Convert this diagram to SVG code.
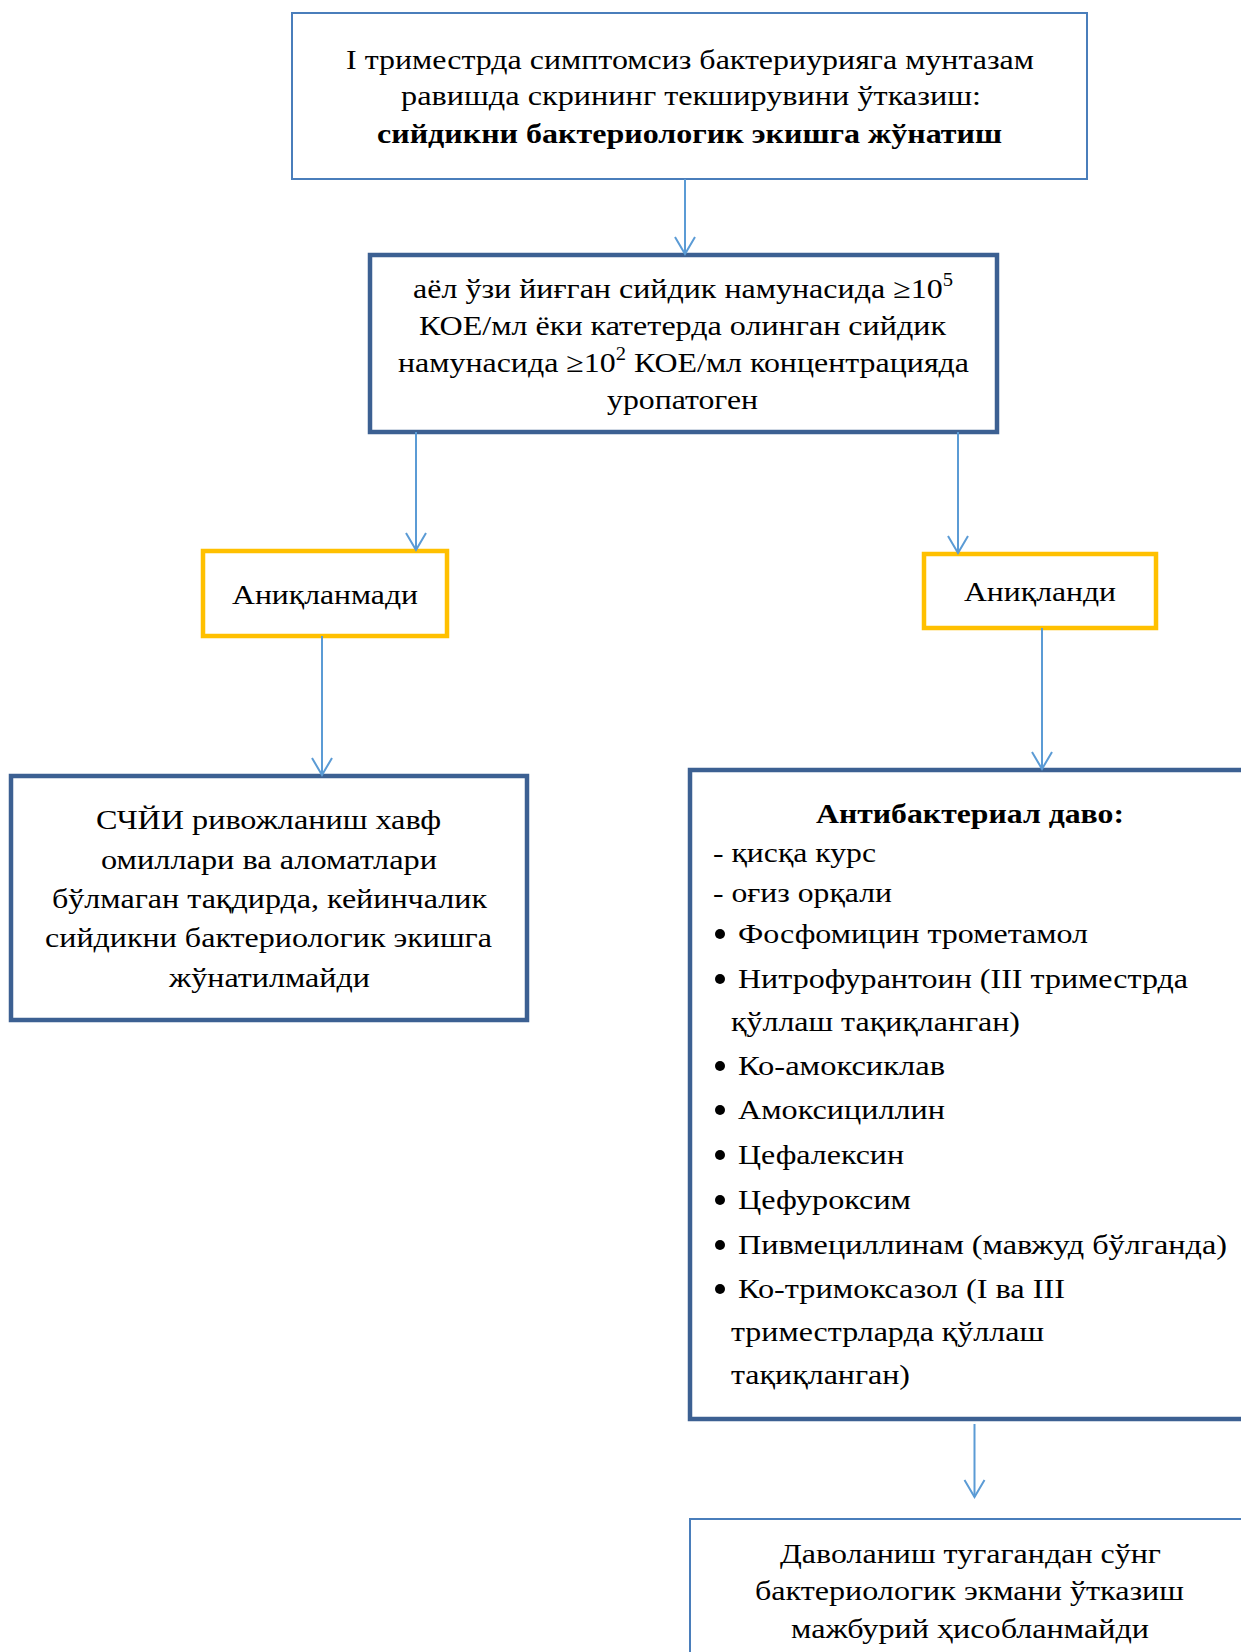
<svg xmlns="http://www.w3.org/2000/svg" width="1241" height="1652" viewBox="0 0 1241 1652">
<style>
.t{font-family:"Liberation Serif","Times New Roman",serif;font-size:28px;fill:#000}
.b{font-weight:bold}
.thin{fill:#fff;stroke:#4a7ebb;stroke-width:2}
.thick{fill:#fff;stroke:#3c6092;stroke-width:4.5}
.org{fill:#fff;stroke:#ffc000;stroke-width:4.5}
.conn line{stroke:#5b9bd5;stroke-width:2;marker-end:url(#arr)}
</style>
<defs>
<marker id="arr" markerUnits="userSpaceOnUse" viewBox="-20 -12 24 24" refX="0" refY="0" markerWidth="24" markerHeight="24" orient="auto" overflow="visible">
<path d="M-17,-10 L0,0 L-17,10" fill="none" stroke="#5b9bd5" stroke-width="2"/>
</marker>
</defs>
<rect width="1241" height="1652" fill="#fff"/>

<g id="n1">
<rect class="thin" x="292" y="13" width="795" height="166"/>
<text class="t" x="346" y="69" textLength="688" lengthAdjust="spacingAndGlyphs">І триместрда симптомсиз бактериурияга мунтазам</text>
<text class="t" x="401" y="105" textLength="580" lengthAdjust="spacingAndGlyphs">равишда скрининг текширувини ўтказиш:</text>
<text class="t b" x="377" y="143" textLength="625" lengthAdjust="spacingAndGlyphs">сийдикни бактериологик экишга жўнатиш</text>
</g>

<g id="n2">
<rect class="thick" x="370" y="255" width="627" height="177"/>
<text class="t" x="413" y="298" textLength="540" lengthAdjust="spacingAndGlyphs">аёл ўзи йиғган сийдик намунасида ≥10<tspan font-size="18" dy="-12">5</tspan></text>
<text class="t" x="419" y="335" textLength="527" lengthAdjust="spacingAndGlyphs">КОЕ/мл ёки катетерда олинган сийдик</text>
<text class="t" x="398" y="372" textLength="571" lengthAdjust="spacingAndGlyphs">намунасида ≥10<tspan font-size="18" dy="-12">2</tspan><tspan dy="12"> КОЕ/мл концентрацияда</tspan></text>
<text class="t" x="607" y="409" textLength="151" lengthAdjust="spacingAndGlyphs">уропатоген</text>
</g>

<g id="n3">
<rect class="org" x="203" y="551" width="244" height="85"/>
<text class="t" x="232" y="604" textLength="186" lengthAdjust="spacingAndGlyphs">Аниқланмади</text>
</g>

<g id="n4">
<rect class="org" x="924" y="554" width="232" height="74"/>
<text class="t" x="964" y="601" textLength="152" lengthAdjust="spacingAndGlyphs">Аниқланди</text>
</g>

<g id="n5">
<rect class="thick" x="11" y="776" width="516" height="244"/>
<text class="t" x="96" y="829" textLength="345" lengthAdjust="spacingAndGlyphs">СЧЙИ ривожланиш хавф</text>
<text class="t" x="101" y="869" textLength="336" lengthAdjust="spacingAndGlyphs">омиллари ва аломатлари</text>
<text class="t" x="52" y="908" textLength="435" lengthAdjust="spacingAndGlyphs">бўлмаган тақдирда, кейинчалик</text>
<text class="t" x="45" y="947" textLength="447" lengthAdjust="spacingAndGlyphs">сийдикни бактериологик экишга</text>
<text class="t" x="169" y="987" textLength="201" lengthAdjust="spacingAndGlyphs">жўнатилмайди</text>
</g>

<g id="n6">
<rect class="thick" x="690" y="770" width="580" height="649"/>
<text class="t b" x="816" y="823" textLength="308" lengthAdjust="spacingAndGlyphs">Антибактериал даво:</text>
<text class="t" x="713" y="862" textLength="163" lengthAdjust="spacingAndGlyphs">- қисқа курс</text>
<text class="t" x="713" y="902" textLength="179" lengthAdjust="spacingAndGlyphs">- оғиз орқали</text>
<g fill="#000">
<circle cx="720" cy="934" r="5"/>
<circle cx="720" cy="979" r="5"/>
<circle cx="720" cy="1066" r="5"/>
<circle cx="720" cy="1110" r="5"/>
<circle cx="720" cy="1155" r="5"/>
<circle cx="720" cy="1200" r="5"/>
<circle cx="720" cy="1245" r="5"/>
<circle cx="720" cy="1289" r="5"/>
</g>
<text class="t" x="738" y="943" textLength="350" lengthAdjust="spacingAndGlyphs">Фосфомицин трометамол</text>
<text class="t" x="738" y="988" textLength="450" lengthAdjust="spacingAndGlyphs">Нитрофурантоин (III триместрда</text>
<text class="t" x="731" y="1031" textLength="289" lengthAdjust="spacingAndGlyphs">қўллаш тақиқланган)</text>
<text class="t" x="738" y="1075" textLength="207" lengthAdjust="spacingAndGlyphs">Ко-амоксиклав</text>
<text class="t" x="738" y="1119" textLength="207" lengthAdjust="spacingAndGlyphs">Амоксициллин</text>
<text class="t" x="738" y="1164" textLength="166" lengthAdjust="spacingAndGlyphs">Цефалексин</text>
<text class="t" x="738" y="1209" textLength="173" lengthAdjust="spacingAndGlyphs">Цефуроксим</text>
<text class="t" x="738" y="1254" textLength="489" lengthAdjust="spacingAndGlyphs">Пивмециллинам (мавжуд бўлганда)</text>
<text class="t" x="738" y="1298" textLength="327" lengthAdjust="spacingAndGlyphs">Ко-тримоксазол (I ва III</text>
<text class="t" x="731" y="1341" textLength="313" lengthAdjust="spacingAndGlyphs">триместрларда қўллаш</text>
<text class="t" x="731" y="1384" textLength="179" lengthAdjust="spacingAndGlyphs">тақиқланган)</text>
</g>

<g id="n7">
<rect class="thin" x="690" y="1519" width="580" height="160"/>
<text class="t" x="780" y="1563" textLength="381" lengthAdjust="spacingAndGlyphs">Даволаниш тугагандан сўнг</text>
<text class="t" x="755" y="1600" textLength="429" lengthAdjust="spacingAndGlyphs">бактериологик экмани ўтказиш</text>
<text class="t" x="791" y="1638" textLength="358" lengthAdjust="spacingAndGlyphs">мажбурий ҳисобланмайди</text>
</g>

<g id="connectors" class="conn">
<line x1="685" y1="179" x2="685" y2="254"/>
<line x1="416" y1="432" x2="416" y2="550"/>
<line x1="958" y1="432" x2="958" y2="553"/>
<line x1="322" y1="636" x2="322" y2="775"/>
<line x1="1042" y1="628" x2="1042" y2="769"/>
<line x1="974.5" y1="1424" x2="974.5" y2="1497"/>
</g>
</svg>
